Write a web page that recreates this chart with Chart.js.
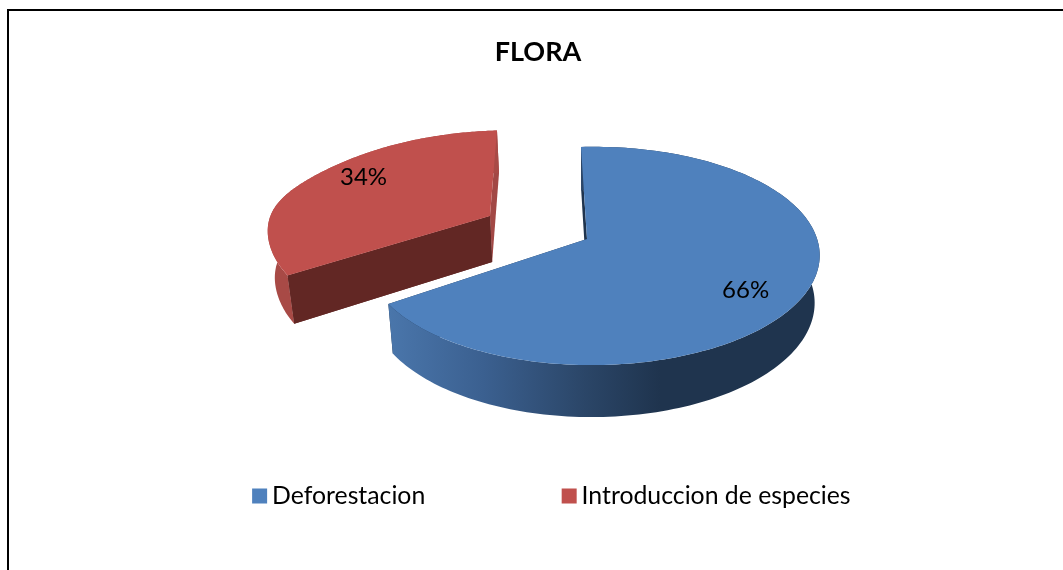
<!DOCTYPE html>
<html>
<head>
<meta charset="utf-8">
<title>FLORA</title>
<script src="https://cdn.jsdelivr.net/npm/chart.js@4/dist/chart.umd.min.js"></script>
<style>
  html, body { margin: 0; padding: 0; background: #fff; overflow: hidden; }
  canvas { display: block; }
</style>
</head>
<body>
<canvas id="flora" width="1063" height="570"></canvas>
<script>
var categories = ['Deforestacion', 'Introduccion de especies'];
var values = [66, 34];
var sliceColors = ['#4f81bd', '#c0504d'];
var explode = [0, 0.509];
var stretch = [1, 1.03];
var rimBulge = [0, 5];
var labelShift = [14, -9];

// tilted disc: unit circle -> screen, the Excel 3d pie look
var view = { x: 587, y: 239, a: 224, b: 106.4, s: 6.94, t: -4.3, p: 0.156, q: 0.02 };

var walls = [
    { start: '#1f344e', end: '#1f344e', side: [[0, '#4a76ab'], [0.35, '#3b6090'], [0.72, '#2b4668'], [1, '#1f344e']] },
    { start: '#622724', end: '#a24845', side: [[0, '#a84a46'], [1, '#a84a46']] }
];

function project(u, v) {
    var w = 1 - view.p * v - view.q * u;
    return [view.x + (view.a * u + view.s * v) / w, view.y + (view.b * v + view.t * u) / w];
}

function drop(pt) {
    return [pt[0] + 0.022 * (590 - pt[0]), pt[1] + 46 + (pt[1] - 215) * 0.04];
}

function fillPoly(ctx, pts, fill) {
    ctx.beginPath();
    pts.forEach(function (pt, i) {
        if (i === 0) ctx.moveTo(pt[0], pt[1]);
        else ctx.lineTo(pt[0], pt[1]);
    });
    ctx.closePath();
    ctx.fillStyle = fill;
    ctx.fill();
}

var pie3d = {
    id: 'pie3d',
    afterLayout: function (chart) {
        // rounding in the legend would wrap the last item otherwise
        chart.legend.lineWidths[0] += 0.5;
    },
    beforeDraw: function (chart) {
        var ctx = chart.ctx;
        ctx.save();
        ctx.fillStyle = '#fff';
        ctx.fillRect(0, 0, chart.width, chart.height);
        ctx.strokeStyle = '#000';
        ctx.lineWidth = 2;
        ctx.beginPath();
        ctx.moveTo(8, chart.height);
        ctx.lineTo(8, 10);
        ctx.lineTo(chart.width, 10);
        ctx.stroke();
        ctx.restore();
    },
    beforeDatasetsDraw: function (chart) {
        var ctx = chart.ctx;
        var arcs = chart.getDatasetMeta(0).data;
        ctx.save();
        // back slice first
        for (var i = arcs.length - 1; i >= 0; i--) {
            var arc = arcs[i];
            var mid = (arc.startAngle + arc.endAngle) / 2;
            var ex = explode[i] * Math.cos(mid);
            var ey = explode[i] * Math.sin(mid);
            var apex = project(ex, ey);
            var rim = [];
            for (var k = 0; k <= 180; k++) {
                var ang = arc.startAngle + (arc.endAngle - arc.startAngle) * k / 180;
                var pt = project(ex + Math.cos(ang), ey + Math.sin(ang));
                pt[0] = apex[0] + (pt[0] - apex[0]) * stretch[i];
                var d = (k / 180 - 0.27) / 0.2;
                var bump = rimBulge[i] * Math.exp(-d * d);
                pt[0] -= bump;
                pt[1] -= bump;
                rim.push(pt);
            }
            var first = rim[0];
            var last = rim[rim.length - 1];

            fillPoly(ctx, [apex, first, drop(first), drop(apex)], walls[i].start);
            fillPoly(ctx, [apex, last, drop(last), drop(apex)], walls[i].end);

            var grad = ctx.createLinearGradient(388, 0, 660, 0);
            walls[i].side.forEach(function (stop) { grad.addColorStop(stop[0], stop[1]); });
            fillPoly(ctx, rim.concat(rim.map(drop).reverse()), grad);

            // dark front wall goes back over the rim wall
            if (i === 1) fillPoly(ctx, [apex, first, drop(first), drop(apex)], walls[i].start);

            fillPoly(ctx, [apex].concat(rim), sliceColors[i]);
        }

        var total = values.reduce(function (a, b) { return a + b; }, 0);
        ctx.fillStyle = '#000';
        ctx.font = '24px Lato';
        ctx.textAlign = 'center';
        ctx.textBaseline = 'middle';
        arcs.forEach(function (arc, i) {
            var mid = (arc.startAngle + arc.endAngle) / 2;
            var r = explode[i] + 0.74;
            var pt = project(r * Math.cos(mid), r * Math.sin(mid));
            ctx.fillText(Math.round(values[i] / total * 100) + '%', pt[0], pt[1] + labelShift[i]);
        });
        ctx.restore();
        return false;
    }
};

new Chart(document.getElementById('flora'), {
    type: 'pie',
    data: {
        labels: categories,
        datasets: [{ data: values, backgroundColor: sliceColors, borderWidth: 0 }]
    },
    options: {
        responsive: false,
        animation: false,
        layout: { padding: { left: 81, right: 68, top: 36, bottom: 51.7 } },
        plugins: {
            tooltip: { enabled: false },
            title: {
                display: true,
                text: 'FLORA',
                color: '#000',
                font: { family: 'Lato', size: 27, weight: 'bold' },
                padding: { top: 0, bottom: 10 }
            },
            legend: {
                position: 'bottom',
                align: 'end',
                labels: {
                    color: '#000',
                    font: { family: 'Lato', size: 24.8 },
                    usePointStyle: true,
                    pointStyle: 'rect',
                    boxWidth: 0.01,
                    boxHeight: 15,
                    padding: 143.9
                }
            }
        }
    },
    plugins: [pie3d]
});
</script>
</body>
</html>
